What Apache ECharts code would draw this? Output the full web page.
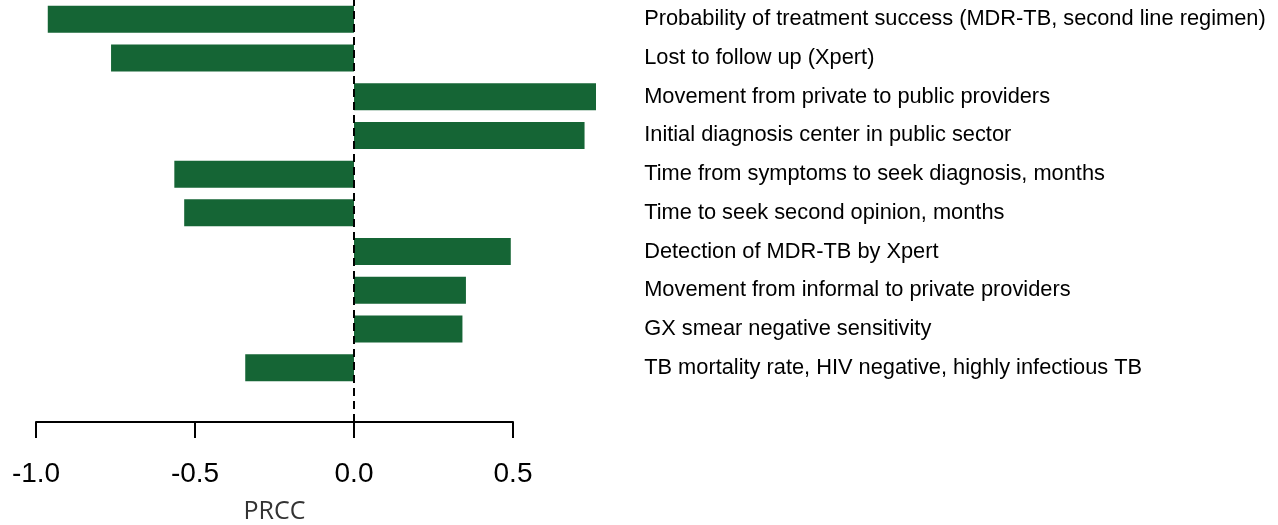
<!DOCTYPE html>
<html>
<head>
<meta charset="utf-8">
<script src="https://cdn.jsdelivr.net/npm/echarts@6/dist/echarts.min.js"></script>
<style>
html,body{margin:0;padding:0;background:#fff;}
#chart{width:1278px;height:525px;}
</style>
</head>
<body>
<div id="chart"></div>
<script>
const categories = [
  "Probability of treatment success (MDR-TB, second line regimen)",
  "Lost to follow up (Xpert)",
  "Movement from private to public providers",
  "Initial diagnosis center in public sector",
  "Time from symptoms to seek diagnosis, months",
  "Time to seek second opinion, months",
  "Detection of MDR-TB by Xpert",
  "Movement from informal to private providers",
  "GX smear negative sensitivity",
  "TB mortality rate, HIV negative, highly infectious TB"
];
const prcc = [-0.963, -0.764, 0.761, 0.725, -0.565, -0.534, 0.493, 0.352, 0.341, -0.342];
const tickValues = [-1.0, -0.5, 0.0, 0.5];

const pxPerUnit = 318;
const left = 36;
const chart = echarts.init(document.getElementById('chart'), null, {renderer: 'canvas'});
const option = {
  animation: false,
  backgroundColor: '#ffffff',
  grid: [
    {left: left, top: 0, width: 1.9 * pxPerUnit, height: 387, containLabel: false, outerBoundsMode: 'none'},
    {left: left, top: 0, width: 1.5 * pxPerUnit, height: 422, containLabel: false, outerBoundsMode: 'none'}
  ],
  xAxis: [
    {gridIndex: 0, type: 'value', min: -1, max: 0.9, show: false},
    {gridIndex: 1, type: 'value', min: tickValues[0], max: tickValues[tickValues.length - 1], interval: 0.5,
     position: 'bottom',
     axisLine: {show: true, lineStyle: {color: '#000', width: 2}},
     axisTick: {show: true, inside: false, length: 16, lineStyle: {color: '#000', width: 2}},
     splitLine: {show: false},
     axisLabel: {show: true, color: '#000', fontSize: 28, fontFamily: 'Liberation Sans, Arial, sans-serif', margin: 38,
       formatter: v => v.toFixed(1)},
     name: 'PRCC', nameLocation: 'middle', nameGap: 77,
     nameTextStyle: {fontFamily: 'Open Sans', fontSize: 25, color: '#333'}
    }
  ],
  yAxis: [
    {gridIndex: 0, type: 'category', data: categories, inverse: true, position: 'right',
     axisLine: {show: false}, axisTick: {show: false}, splitLine: {show: false},
     axisLabel: {show: true, align: 'left', margin: 4, color: '#000', fontSize: 21.8,
       fontFamily: 'Liberation Sans, Arial, sans-serif'}},
    {gridIndex: 1, type: 'value', min: 0, max: 1, show: false}
  ],
  series: [
    {type: 'bar', xAxisIndex: 0, yAxisIndex: 0, data: prcc, barWidth: 27,
     itemStyle: {color: '#156535'}, z: 2},
    {type: 'line', xAxisIndex: 1, yAxisIndex: 1, data: [], z: 5,
     markLine: {silent: true, symbol: ['none', 'none'], label: {show: false},
       lineStyle: {color: '#000', width: 2, type: [8, 5]},
       data: [{xAxis: 0}]}}
  ]
};
chart.setOption(option);
</script>
</body>
</html>
